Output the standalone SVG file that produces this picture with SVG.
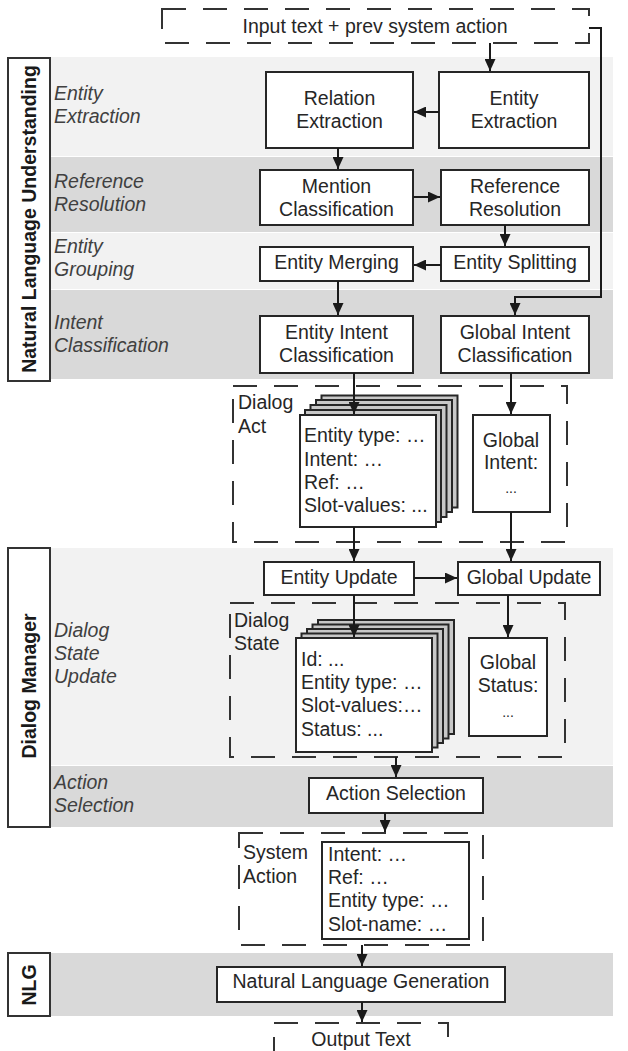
<svg xmlns="http://www.w3.org/2000/svg" width="628" height="1051" viewBox="0 0 628 1051">
<defs>
<style>
.bl{fill:#f2f2f2}
.bd{fill:#d9d9d9}
.lab{fill:#fff;stroke:#333;stroke-width:2}
.node{fill:#fff;stroke:#262626;stroke-width:2}
.back{fill:#c8c8c8;stroke:#262626;stroke-width:2}
.dash{fill:none;stroke:#333;stroke-width:2;stroke-dasharray:24 17}
.t{font-family:"Liberation Sans",Arial,sans-serif;font-size:19.5px;fill:#262626}
.c{text-anchor:middle}
.i{font-style:italic;fill:#404040}
.b{font-weight:bold;fill:#1a1a1a}
.sm{font-size:14px}
.con{fill:none;stroke:#1a1a1a;stroke-width:2}
</style>
<marker id="ah" markerUnits="userSpaceOnUse" markerWidth="12" markerHeight="11" refX="12" refY="5.5" orient="auto">
<path d="M0,0 L12,5.5 L0,11 z" fill="#1a1a1a"/>
</marker>
</defs>

<g id="bands">
<rect class="bl" x="50" y="57" width="563" height="99"/>
<rect class="bd" x="50" y="157" width="563" height="75"/>
<rect class="bl" x="50" y="233" width="563" height="56"/>
<rect class="bd" x="50" y="290" width="563" height="89"/>
<rect class="bl" x="50" y="548" width="563" height="217"/>
<rect class="bd" x="50" y="766" width="563" height="61"/>
<rect class="bd" x="50" y="953" width="563" height="63"/>
</g>

<g id="section-labels">
<rect class="lab" x="8" y="58" width="42" height="323"/>
<text class="t b c" transform="translate(36,219) rotate(-90)">Natural Language Understanding</text>
<rect class="lab" x="8" y="548" width="42" height="279"/>
<text class="t b c" transform="translate(36,686) rotate(-90)">Dialog Manager</text>
<rect class="lab" x="8" y="953" width="42" height="63"/>
<text class="t b c" transform="translate(36,985) rotate(-90)">NLG</text>
</g>

<g id="band-labels">
<text class="t i" x="54" y="100">Entity</text>
<text class="t i" x="54" y="123">Extraction</text>
<text class="t i" x="54" y="188">Reference</text>
<text class="t i" x="54" y="211">Resolution</text>
<text class="t i" x="54" y="253">Entity</text>
<text class="t i" x="54" y="276">Grouping</text>
<text class="t i" x="54" y="329">Intent</text>
<text class="t i" x="54" y="352">Classification</text>
<text class="t i" x="54" y="637">Dialog</text>
<text class="t i" x="54" y="660">State</text>
<text class="t i" x="54" y="683">Update</text>
<text class="t i" x="54" y="789">Action</text>
<text class="t i" x="54" y="812">Selection</text>
</g>

<g id="input">
<rect class="dash" x="162" y="9" width="427" height="34"/>
<text class="t c" x="375" y="33">Input text + prev system action</text>
</g>

<g id="relation-extraction">
<rect class="node" x="266" y="72" width="147" height="76"/>
<text class="t c" x="339.5" y="105">Relation</text>
<text class="t c" x="339.5" y="128">Extraction</text>
</g>
<g id="entity-extraction">
<rect class="node" x="439" y="72" width="150" height="76"/>
<text class="t c" x="514" y="105">Entity</text>
<text class="t c" x="514" y="128">Extraction</text>
</g>
<g id="mention-classification">
<rect class="node" x="260" y="170" width="153" height="55"/>
<text class="t c" x="336.5" y="193">Mention</text>
<text class="t c" x="336.5" y="216">Classification</text>
</g>
<g id="reference-resolution">
<rect class="node" x="441" y="170" width="148" height="55"/>
<text class="t c" x="515" y="193">Reference</text>
<text class="t c" x="515" y="216">Resolution</text>
</g>
<g id="entity-merging">
<rect class="node" x="260" y="247" width="153" height="34"/>
<text class="t c" x="336.5" y="269">Entity Merging</text>
</g>
<g id="entity-splitting">
<rect class="node" x="441" y="247" width="148" height="34"/>
<text class="t c" x="515" y="269">Entity Splitting</text>
</g>
<g id="entity-intent-classification">
<rect class="node" x="260" y="316" width="153" height="57"/>
<text class="t c" x="336.5" y="339">Entity Intent</text>
<text class="t c" x="336.5" y="362">Classification</text>
</g>
<g id="global-intent-classification">
<rect class="node" x="441" y="316" width="148" height="57"/>
<text class="t c" x="515" y="339">Global Intent</text>
<text class="t c" x="515" y="362">Classification</text>
</g>

<g id="dialog-act">
<rect class="dash" x="233" y="386" width="334" height="156"/>
<text class="t" x="238" y="409">Dialog</text>
<text class="t" x="238" y="433">Act</text>
<rect class="back" x="321.5" y="395.5" width="136" height="112"/>
<rect class="back" x="316" y="400" width="136" height="112"/>
<rect class="back" x="310.5" y="405" width="136" height="112"/>
<rect class="back" x="305" y="410" width="136" height="112"/>
<rect class="node" x="300" y="415" width="136" height="112"/>
<text class="t" x="304" y="442">Entity type: …</text>
<text class="t" x="304" y="466">Intent: …</text>
<text class="t" x="304" y="489">Ref: …</text>
<text class="t" x="304" y="512">Slot-values: ...</text>
</g>
<g id="global-intent">
<rect class="node" x="473" y="415" width="77" height="97"/>
<text class="t c" x="511" y="447">Global</text>
<text class="t c" x="511" y="469">Intent:</text>
<text class="t c sm" x="511" y="493">...</text>
</g>

<g id="entity-update">
<rect class="node" x="264" y="562" width="150" height="33"/>
<text class="t c" x="339" y="584">Entity Update</text>
</g>
<g id="global-update">
<rect class="node" x="458" y="562" width="142" height="33"/>
<text class="t c" x="529" y="584">Global Update</text>
</g>

<g id="dialog-state">
<rect class="dash" x="230" y="603" width="335" height="154"/>
<text class="t" x="234" y="627">Dialog</text>
<text class="t" x="234" y="650">State</text>
<rect class="back" x="318" y="620" width="136" height="114"/>
<rect class="back" x="312.5" y="624.5" width="136" height="114"/>
<rect class="back" x="307" y="629" width="136" height="114"/>
<rect class="back" x="301.5" y="633.5" width="136" height="114"/>
<rect class="node" x="296" y="638" width="136" height="114"/>
<text class="t" x="301" y="666">Id: ...</text>
<text class="t" x="301" y="689">Entity type: …</text>
<text class="t" x="301" y="712">Slot-values:…</text>
<text class="t" x="301" y="736">Status: ...</text>
</g>
<g id="global-status">
<rect class="node" x="469" y="638" width="78" height="98"/>
<text class="t c" x="508" y="669">Global</text>
<text class="t c" x="508" y="692">Status:</text>
<text class="t c sm" x="508" y="717">...</text>
</g>

<g id="action-selection">
<rect class="node" x="309" y="778" width="174" height="35"/>
<text class="t c" x="396" y="800">Action Selection</text>
</g>

<g id="system-action">
<rect class="dash" x="239" y="833" width="244" height="112"/>
<text class="t" x="243" y="859">System</text>
<text class="t" x="243" y="883">Action</text>
<rect class="node" x="322" y="842" width="147" height="97"/>
<text class="t" x="328" y="861">Intent: …</text>
<text class="t" x="328" y="884">Ref: …</text>
<text class="t" x="328" y="907">Entity type: …</text>
<text class="t" x="328" y="931">Slot-name: …</text>
</g>

<g id="nlg">
<rect class="node" x="217" y="967" width="288" height="35"/>
<text class="t c" x="361" y="988">Natural Language Generation</text>
</g>

<g id="output">
<rect class="dash" x="274" y="1023" width="174" height="50"/>
<text class="t c" x="361" y="1046">Output Text</text>
</g>

<g id="connectors">
<path class="con" d="M490,43 V71" marker-end="url(#ah)"/>
<path class="con" d="M589,28 H601 V297 H515 V315" marker-end="url(#ah)"/>
<path class="con" d="M439,112 H414" marker-end="url(#ah)"/>
<path class="con" d="M338,148 V169" marker-end="url(#ah)"/>
<path class="con" d="M413,197 H440" marker-end="url(#ah)"/>
<path class="con" d="M505,225 V246" marker-end="url(#ah)"/>
<path class="con" d="M441,265 H414" marker-end="url(#ah)"/>
<path class="con" d="M338,281 V315" marker-end="url(#ah)"/>
<path class="con" d="M354,373 V414" marker-end="url(#ah)"/>
<path class="con" d="M511,373 V414" marker-end="url(#ah)"/>
<path class="con" d="M354,527 V561" marker-end="url(#ah)"/>
<path class="con" d="M511,512 V561" marker-end="url(#ah)"/>
<path class="con" d="M414,578 H457" marker-end="url(#ah)"/>
<path class="con" d="M354,595 V637" marker-end="url(#ah)"/>
<path class="con" d="M508,595 V637" marker-end="url(#ah)"/>
<path class="con" d="M396,757 V777" marker-end="url(#ah)"/>
<path class="con" d="M385,813 V832" marker-end="url(#ah)"/>
<path class="con" d="M362,945 V966" marker-end="url(#ah)"/>
<path class="con" d="M362,1002 V1022" marker-end="url(#ah)"/>
</g>
</svg>
